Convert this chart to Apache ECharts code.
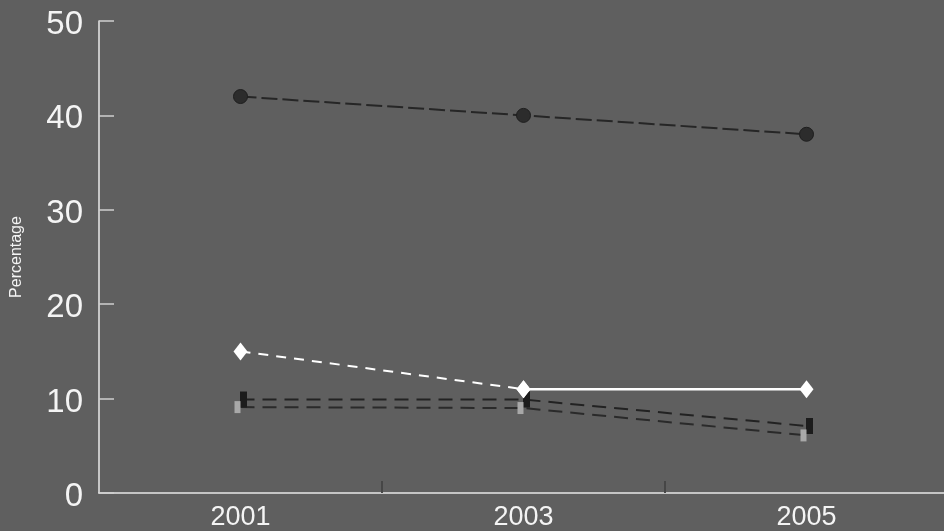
<!DOCTYPE html>
<html>
<head>
<meta charset="utf-8">
<script src="https://cdn.jsdelivr.net/npm/echarts@6/dist/echarts.min.js"></script>
<style>
html,body{margin:0;padding:0;background:#5f5f5f;}
#chart{width:944px;height:531px;}
</style>
</head>
<body>
<div id="chart"></div>
<script>
// Data
var axisYears = ['2000','2001','2002','2003','2004','2005','2006'];
var years = ['2001','2003','2005'];
var seriesTop = [42, 40, 38];
var seriesWhite = [15, 11, 11];
var seriesMidA = [9.9, 9.9, 7.1];
var seriesMidB = [9.1, 9.0, 6.1];
var yTicks = [0, 10, 20, 30, 40, 50];

function pairs(vals) { return years.map(function (y, i) { return [y, vals[i]]; }); }

var chart = echarts.init(document.getElementById('chart'));
chart.setOption({
  backgroundColor: '#5f5f5f',
  animation: false,
  grid: { left: 99, width: 849, top: 21, bottom: 38, outerBoundsMode: 'none', containLabel: false },
  xAxis: {
    type: 'category',
    data: axisYears,
    boundaryGap: false,
    axisLine: { lineStyle: { color: '#e8e8e8', width: 1.5 } },
    axisTick: {
      show: true, inside: true, length: 12,
      interval: function (i, v) { return v === '2002' || v === '2004'; },
      lineStyle: { color: '#464646', width: 2 }
    },
    axisLabel: {
      interval: function (i, v) { return years.indexOf(v) >= 0; },
      color: '#f4f4f4', fontSize: 27, fontFamily: 'Liberation Sans', margin: 11
    },
    splitLine: { show: false }
  },
  yAxis: {
    type: 'value',
    min: yTicks[0], max: yTicks[yTicks.length - 1], interval: 10,
    name: 'Percentage',
    nameLocation: 'middle',
    nameGap: 74,
    nameRotate: 90,
    nameTextStyle: { color: '#f4f4f4', fontSize: 16, fontFamily: 'Liberation Sans' },
    axisLine: { show: true, lineStyle: { color: '#e8e8e8', width: 1.5 } },
    axisTick: { show: true, inside: true, length: 15, lineStyle: { color: '#d0d0d0', width: 1.5 } },
    axisLabel: { color: '#f4f4f4', fontSize: 33, fontFamily: 'Liberation Sans', margin: 16, verticalAlign: 'top', lineHeight: 8 },
    splitLine: { show: false }
  },
  series: [
    {
      type: 'line', data: pairs(seriesTop),
      symbol: 'circle', symbolSize: 14,
      itemStyle: { color: '#2c2c2c', borderColor: '#1e1e1e', borderWidth: 1 },
      lineStyle: { color: '#262626', width: 2, type: [16, 5] },
      z: 3
    },
    {
      type: 'line', data: pairs(seriesMidA),
      symbol: 'rect', symbolSize: [7, 16], symbolOffset: [3, 0],
      itemStyle: { color: '#1c1c1c' },
      lineStyle: { color: '#222222', width: 2, type: [14, 8] },
      z: 3
    },
    {
      type: 'line', data: pairs(seriesMidB),
      symbol: 'rect', symbolSize: [6, 12], symbolOffset: [-3, 0],
      itemStyle: { color: '#a8a8a8' },
      lineStyle: { color: '#2a2a2a', width: 2, type: [14, 8] },
      z: 3
    },
    {
      type: 'line', data: pairs(seriesWhite).slice(0, 2),
      symbol: 'diamond', symbolSize: [14, 18],
      itemStyle: { color: '#ffffff' },
      lineStyle: { color: '#ffffff', width: 2, type: [10, 8] },
      z: 4
    },
    {
      type: 'line', data: pairs(seriesWhite).slice(1),
      symbol: 'diamond', symbolSize: [14, 18],
      itemStyle: { color: '#ffffff' },
      lineStyle: { color: '#ffffff', width: 2.5, type: 'solid' },
      z: 4
    }
  ]
});
</script>
</body>
</html>
